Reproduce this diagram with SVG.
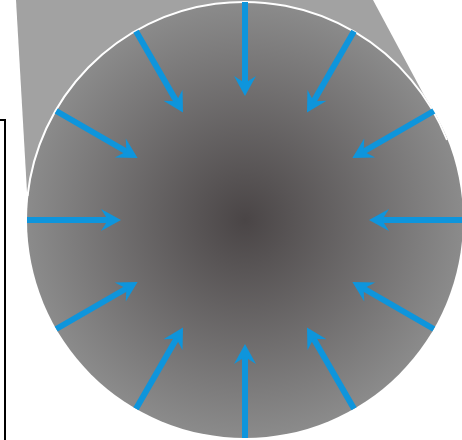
<svg xmlns="http://www.w3.org/2000/svg" xmlns:xlink="http://www.w3.org/1999/xlink" width="462" height="440" viewBox="0 0 462 440">
<style>
.frame{fill:none;stroke:#000;stroke-width:2}
.shaft{stroke:#0e95dc;stroke-width:6;fill:none}
.head{fill:#0e95dc}
</style>
<defs>
<radialGradient id="g" cx="245" cy="220" r="218" gradientUnits="userSpaceOnUse">
<stop offset="0" stop-color="#4a4546"/>
<stop offset="1" stop-color="#8b8b8b"/>
</radialGradient>
<g id="arr">
<line class="shaft" x1="0" y1="-218" x2="0" y2="-136"/>
<path class="head" d="M0,-124 L-11,-144 L0,-137 L11,-144 Z"/>
</g>
</defs>
<g id="frame"><polyline class="frame" points="0,120 5,120 5,440"/></g>
<g id="beam"><polygon points="16,0 373,0 448,140 245,220 27,192" fill="#a2a2a2"/></g>
<g id="disc">
<circle cx="245" cy="220" r="218" fill="url(#g)"/>
<path d="M27.5,196 A218,218 0 0 1 447,140" fill="none" stroke="#fff" stroke-width="2"/>
</g>
<g id="arrows">
<use xlink:href="#arr" transform="translate(245,220) rotate(0)"/>
<use xlink:href="#arr" transform="translate(245,220) rotate(30)"/>
<use xlink:href="#arr" transform="translate(245,220) rotate(60)"/>
<use xlink:href="#arr" transform="translate(245,220) rotate(90)"/>
<use xlink:href="#arr" transform="translate(245,220) rotate(120)"/>
<use xlink:href="#arr" transform="translate(245,220) rotate(150)"/>
<use xlink:href="#arr" transform="translate(245,220) rotate(180)"/>
<use xlink:href="#arr" transform="translate(245,220) rotate(210)"/>
<use xlink:href="#arr" transform="translate(245,220) rotate(240)"/>
<use xlink:href="#arr" transform="translate(245,220) rotate(270)"/>
<use xlink:href="#arr" transform="translate(245,220) rotate(300)"/>
<use xlink:href="#arr" transform="translate(245,220) rotate(330)"/>
</g>
</svg>
